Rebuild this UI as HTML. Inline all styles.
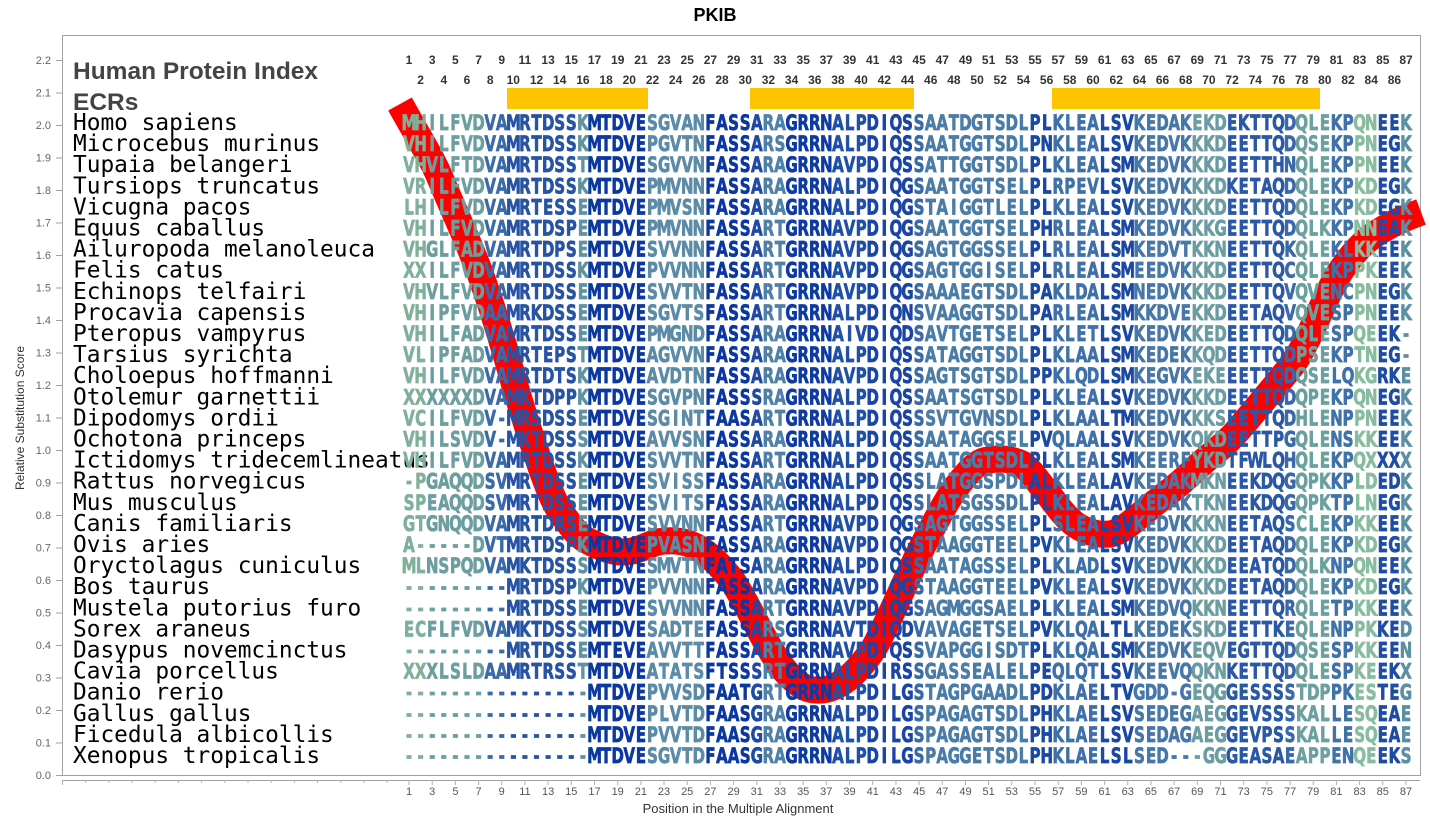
<!DOCTYPE html>
<html><head><meta charset="utf-8"><style>
html,body{margin:0;padding:0;background:#fff;width:1430px;height:825px;overflow:hidden}
svg{display:block}
</style></head><body>
<svg width="1430" height="825" viewBox="0 0 1430 825" xmlns="http://www.w3.org/2000/svg">
<defs>
<linearGradient id="g" gradientUnits="userSpaceOnUse" x1="560" y1="0" x2="1960.8" y2="0">
<stop offset="0" stop-color="#80b09a"/><stop offset="0.02299" stop-color="#80b09a"/>
<stop offset="0.02299" stop-color="#6c9ea0"/><stop offset="0.08046" stop-color="#6c9ea0"/>
<stop offset="0.08046" stop-color="#3a6aa8"/><stop offset="0.10345" stop-color="#3a6aa8"/>
<stop offset="0.10345" stop-color="#2753a5"/><stop offset="0.17241" stop-color="#2753a5"/>
<stop offset="0.17241" stop-color="#5f93a2"/><stop offset="0.18391" stop-color="#5f93a2"/>
<stop offset="0.18391" stop-color="#0b37a2"/><stop offset="0.24138" stop-color="#0b37a2"/>
<stop offset="0.24138" stop-color="#5b8ba6"/><stop offset="0.29885" stop-color="#5b8ba6"/>
<stop offset="0.29885" stop-color="#0b37a2"/><stop offset="0.34483" stop-color="#0b37a2"/>
<stop offset="0.34483" stop-color="#1e4aa5"/><stop offset="0.35632" stop-color="#1e4aa5"/>
<stop offset="0.35632" stop-color="#4f80a8"/><stop offset="0.37931" stop-color="#4f80a8"/>
<stop offset="0.37931" stop-color="#0d3aa3"/><stop offset="0.42529" stop-color="#0d3aa3"/>
<stop offset="0.42529" stop-color="#2050a5"/><stop offset="0.45977" stop-color="#2050a5"/>
<stop offset="0.45977" stop-color="#1a45a5"/><stop offset="0.50575" stop-color="#1a45a5"/>
<stop offset="0.50575" stop-color="#3a6aa8"/><stop offset="0.51724" stop-color="#3a6aa8"/>
<stop offset="0.51724" stop-color="#4a7ca8"/><stop offset="0.62069" stop-color="#4a7ca8"/>
<stop offset="0.62069" stop-color="#1a48a5"/><stop offset="0.64368" stop-color="#1a48a5"/>
<stop offset="0.64368" stop-color="#3f70a8"/><stop offset="0.68966" stop-color="#3f70a8"/>
<stop offset="0.68966" stop-color="#1a48a5"/><stop offset="0.72414" stop-color="#1a48a5"/>
<stop offset="0.72414" stop-color="#4677a8"/><stop offset="0.78161" stop-color="#4677a8"/>
<stop offset="0.78161" stop-color="#6a9ca2"/><stop offset="0.81609" stop-color="#6a9ca2"/>
<stop offset="0.81609" stop-color="#2a58a6"/><stop offset="0.87356" stop-color="#2a58a6"/>
<stop offset="0.87356" stop-color="#3a68a8"/><stop offset="0.88506" stop-color="#3a68a8"/>
<stop offset="0.88506" stop-color="#6aa09e"/><stop offset="0.91954" stop-color="#6aa09e"/>
<stop offset="0.91954" stop-color="#3e72a8"/><stop offset="0.94253" stop-color="#3e72a8"/>
<stop offset="0.94253" stop-color="#88bc9e"/><stop offset="0.96552" stop-color="#88bc9e"/>
<stop offset="0.96552" stop-color="#1e4ca5"/><stop offset="0.98851" stop-color="#1e4ca5"/>
<stop offset="0.98851" stop-color="#5a90a4"/><stop offset="1" stop-color="#5a90a4"/>
</linearGradient>
</defs>

<text x="715" y="21" font-family="Liberation Sans, sans-serif" font-size="18" font-weight="bold" text-anchor="middle" fill="#000">PKIB</text>

<rect x="62.5" y="35.5" width="1358" height="740" fill="none" stroke="#a0a0a0" stroke-width="1"/>
<line x1="62" y1="780.5" x2="1420" y2="780.5" stroke="#a0a0a0"/>

<g font-family="Liberation Sans, sans-serif" font-size="11" fill="#666" text-anchor="end">
<text x="51" y="779">0.0</text><text x="51" y="746.5">0.1</text><text x="51" y="714">0.2</text><text x="51" y="681.5">0.3</text><text x="51" y="649">0.4</text><text x="51" y="616.5">0.5</text><text x="51" y="584">0.6</text><text x="51" y="551.5">0.7</text><text x="51" y="519">0.8</text><text x="51" y="486.5">0.9</text><text x="51" y="454">1.0</text><text x="51" y="421.5">1.1</text><text x="51" y="389">1.2</text><text x="51" y="356.5">1.3</text><text x="51" y="324">1.4</text><text x="51" y="291.5">1.5</text><text x="51" y="259">1.6</text><text x="51" y="226.5">1.7</text><text x="51" y="194">1.8</text><text x="51" y="161.5">1.9</text><text x="51" y="129">2.0</text><text x="51" y="96.5">2.1</text><text x="51" y="64">2.2</text>
</g>
<path stroke="#a0a0a0" d="M56 775.5h6M56 743h6M56 710.5h6M56 678h6M56 645.5h6M56 613h6M56 580.5h6M56 548h6M56 515.5h6M56 483h6M56 450.5h6M56 418h6M56 385.5h6M56 353h6M56 320.5h6M56 288h6M56 255.5h6M56 223h6M56 190.5h6M56 158h6M56 125.5h6M56 93h6M56 60.5h6"/>
<text transform="translate(24,418) rotate(-90)" font-family="Liberation Sans, sans-serif" font-size="12" fill="#333" text-anchor="middle">Relative Substitution Score</text>

<path stroke="#b0b0b0" d="M62.5 780v5M85.7 780v3M108.9 780v3M132.1 780v3M155.2 780v3M178.4 780v3M201.6 780v3M224.8 780v3M248 780v3M271.2 780v3M294.4 780v3M317.5 780v3M340.7 780v3M363.9 780v3M387 780v3M409 780v5M432.2 780v5M455.4 780v5M478.6 780v5M501.7 780v5M524.9 780v5M548.1 780v5M571.3 780v5M594.5 780v5M617.7 780v5M640.9 780v5M664 780v5M687.2 780v5M710.4 780v5M733.6 780v5M756.8 780v5M780 780v5M803.2 780v5M826.3 780v5M849.5 780v5M872.7 780v5M895.9 780v5M919.1 780v5M942.3 780v5M965.5 780v5M988.6 780v5M1011.8 780v5M1035 780v5M1058.2 780v5M1081.4 780v5M1104.6 780v5M1127.8 780v5M1150.9 780v5M1174.1 780v5M1197.3 780v5M1220.5 780v5M1243.7 780v5M1266.9 780v5M1290.1 780v5M1313.2 780v5M1336.4 780v5M1359.6 780v5M1382.8 780v5M1406 780v5"/>
<g font-family="Liberation Sans, sans-serif" font-size="11" fill="#555" text-anchor="middle">
<text x="409" y="795">1</text><text x="432.2" y="795">3</text><text x="455.4" y="795">5</text><text x="478.6" y="795">7</text><text x="501.7" y="795">9</text><text x="524.9" y="795">11</text><text x="548.1" y="795">13</text><text x="571.3" y="795">15</text><text x="594.5" y="795">17</text><text x="617.7" y="795">19</text><text x="640.9" y="795">21</text><text x="664" y="795">23</text><text x="687.2" y="795">25</text><text x="710.4" y="795">27</text><text x="733.6" y="795">29</text><text x="756.8" y="795">31</text><text x="780" y="795">33</text><text x="803.2" y="795">35</text><text x="826.3" y="795">37</text><text x="849.5" y="795">39</text><text x="872.7" y="795">41</text><text x="895.9" y="795">43</text><text x="919.1" y="795">45</text><text x="942.3" y="795">47</text><text x="965.5" y="795">49</text><text x="988.6" y="795">51</text><text x="1011.8" y="795">53</text><text x="1035" y="795">55</text><text x="1058.2" y="795">57</text><text x="1081.4" y="795">59</text><text x="1104.6" y="795">61</text><text x="1127.8" y="795">63</text><text x="1150.9" y="795">65</text><text x="1174.1" y="795">67</text><text x="1197.3" y="795">69</text><text x="1220.5" y="795">71</text><text x="1243.7" y="795">73</text><text x="1266.9" y="795">75</text><text x="1290.1" y="795">77</text><text x="1313.2" y="795">79</text><text x="1336.4" y="795">81</text><text x="1359.6" y="795">83</text><text x="1382.8" y="795">85</text><text x="1406" y="795">87</text>
</g>
<text x="738" y="813" font-family="Liberation Sans, sans-serif" font-size="13" fill="#333" text-anchor="middle">Position in the Multiple Alignment</text>

<g font-family="Liberation Sans, sans-serif" font-size="12" font-weight="bold" fill="#333" text-anchor="middle">
<text x="409" y="64">1</text><text x="432.2" y="64">3</text><text x="455.4" y="64">5</text><text x="478.6" y="64">7</text><text x="501.7" y="64">9</text><text x="524.9" y="64">11</text><text x="548.1" y="64">13</text><text x="571.3" y="64">15</text><text x="594.5" y="64">17</text><text x="617.7" y="64">19</text><text x="640.9" y="64">21</text><text x="664" y="64">23</text><text x="687.2" y="64">25</text><text x="710.4" y="64">27</text><text x="733.6" y="64">29</text><text x="756.8" y="64">31</text><text x="780" y="64">33</text><text x="803.2" y="64">35</text><text x="826.3" y="64">37</text><text x="849.5" y="64">39</text><text x="872.7" y="64">41</text><text x="895.9" y="64">43</text><text x="919.1" y="64">45</text><text x="942.3" y="64">47</text><text x="965.5" y="64">49</text><text x="988.6" y="64">51</text><text x="1011.8" y="64">53</text><text x="1035" y="64">55</text><text x="1058.2" y="64">57</text><text x="1081.4" y="64">59</text><text x="1104.6" y="64">61</text><text x="1127.8" y="64">63</text><text x="1150.9" y="64">65</text><text x="1174.1" y="64">67</text><text x="1197.3" y="64">69</text><text x="1220.5" y="64">71</text><text x="1243.7" y="64">73</text><text x="1266.9" y="64">75</text><text x="1290.1" y="64">77</text><text x="1313.2" y="64">79</text><text x="1336.4" y="64">81</text><text x="1359.6" y="64">83</text><text x="1382.8" y="64">85</text><text x="1406" y="64">87</text>
<text x="420.6" y="84">2</text><text x="443.8" y="84">4</text><text x="467" y="84">6</text><text x="490.2" y="84">8</text><text x="513.3" y="84">10</text><text x="536.5" y="84">12</text><text x="559.7" y="84">14</text><text x="582.9" y="84">16</text><text x="606.1" y="84">18</text><text x="629.3" y="84">20</text><text x="652.5" y="84">22</text><text x="675.6" y="84">24</text><text x="698.8" y="84">26</text><text x="722" y="84">28</text><text x="745.2" y="84">30</text><text x="768.4" y="84">32</text><text x="791.6" y="84">34</text><text x="814.8" y="84">36</text><text x="837.9" y="84">38</text><text x="861.1" y="84">40</text><text x="884.3" y="84">42</text><text x="907.5" y="84">44</text><text x="930.7" y="84">46</text><text x="953.9" y="84">48</text><text x="977.1" y="84">50</text><text x="1000.2" y="84">52</text><text x="1023.4" y="84">54</text><text x="1046.6" y="84">56</text><text x="1069.8" y="84">58</text><text x="1093" y="84">60</text><text x="1116.2" y="84">62</text><text x="1139.4" y="84">64</text><text x="1162.5" y="84">66</text><text x="1185.7" y="84">68</text><text x="1208.9" y="84">70</text><text x="1232.1" y="84">72</text><text x="1255.3" y="84">74</text><text x="1278.5" y="84">76</text><text x="1301.7" y="84">78</text><text x="1324.8" y="84">80</text><text x="1348" y="84">82</text><text x="1371.2" y="84">84</text><text x="1394.4" y="84">86</text>
</g>

<rect x="507" y="88" width="141" height="21" fill="#ffc400"/>
<rect x="750" y="88" width="164" height="21" fill="#ffc400"/>
<rect x="1052" y="88" width="268" height="21" fill="#ffc400"/>

<text x="73" y="79" font-family="Liberation Sans, sans-serif" font-size="24.5" font-weight="bold" fill="#444">Human Protein Index</text>
<text x="73" y="110" font-family="Liberation Sans, sans-serif" font-size="24.5" font-weight="bold" fill="#444">ECRs</text>

<path d="M400 104 C420 140 433 160 441 180 C460 225 470 245 481 276 C495 315 505 350 515 386 C525 420 535 450 542 470 C550 492 555 505 563 515 C572 528 580 538 590 542 C602 548 612 552 623 552 C640 552 650 542 664 541 C678 540 688 542 698 548 C712 556 722 568 732 580 C745 600 755 622 765 640 C775 658 783 670 792 678 C800 686 808 690 816 690 C828 691 838 686 847 679 C858 670 866 660 874 648 C884 630 892 612 901 592 C910 572 918 554 928 536 C940 513 950 494 961 481 C970 470 978 461 988 460 C1000 458 1012 459 1022 464 C1032 471 1040 485 1049 495 C1058 507 1066 518 1076 525 C1088 533 1098 535 1110 534 C1122 532 1134 520 1144 512 C1160 498 1176 488 1191 473 C1208 456 1224 447 1239 429 C1258 407 1275 386 1293 364 C1310 340 1325 295 1340 272 C1350 257 1362 243 1374 235 C1390 224 1405 218 1421 212" fill="none" stroke="#ff0000" stroke-width="27" stroke-linejoin="round"/>

<g font-family="DejaVu Sans Mono, Liberation Mono, monospace" font-size="22.8" fill="#000">
<text x="73" y="130">Homo sapiens</text>
<text x="73" y="151.1">Microcebus murinus</text>
<text x="73" y="172.2">Tupaia belangeri</text>
<text x="73" y="193.3">Tursiops truncatus</text>
<text x="73" y="214.4">Vicugna pacos</text>
<text x="73" y="235.5">Equus caballus</text>
<text x="73" y="256.6">Ailuropoda melanoleuca</text>
<text x="73" y="277.7">Felis catus</text>
<text x="73" y="298.8">Echinops telfairi</text>
<text x="73" y="319.9">Procavia capensis</text>
<text x="73" y="341">Pteropus vampyrus</text>
<text x="73" y="362.1">Tarsius syrichta</text>
<text x="73" y="383.2">Choloepus hoffmanni</text>
<text x="73" y="404.3">Otolemur garnettii</text>
<text x="73" y="425.4">Dipodomys ordii</text>
<text x="73" y="446.5">Ochotona princeps</text>
<text x="73" y="467.6">Ictidomys tridecemlineatus</text>
<text x="73" y="488.7">Rattus norvegicus</text>
<text x="73" y="509.8">Mus musculus</text>
<text x="73" y="530.9">Canis familiaris</text>
<text x="73" y="552">Ovis aries</text>
<text x="73" y="573.1">Oryctolagus cuniculus</text>
<text x="73" y="594.2">Bos taurus</text>
<text x="73" y="615.3">Mustela putorius furo</text>
<text x="73" y="636.4">Sorex araneus</text>
<text x="73" y="657.5">Dasypus novemcinctus</text>
<text x="73" y="678.6">Cavia porcellus</text>
<text x="73" y="699.7">Danio rerio</text>
<text x="73" y="720.8">Gallus gallus</text>
<text x="73" y="741.9">Ficedula albicollis</text>
<text x="73" y="763">Xenopus tropicalis</text>
</g>

<g transform="scale(0.72 1)" font-family="DejaVu Sans, Liberation Sans, sans-serif" font-size="21" font-weight="bold" fill="url(#g)" stroke="url(#g)" stroke-width="0.7" text-anchor="middle">
<text y="130" x="568.1 584.2 600.3 616.4 632.5 648.6 664.7 680.8 696.9 713 729.1 745.2 761.3 777.4 793.5 809.6 825.7 841.8 857.9 874 890.1 906.2 922.3 938.4 954.5 970.6 986.7 1002.8 1018.9 1035 1051.1 1067.2 1083.3 1099.4 1115.5 1131.6 1147.7 1163.8 1179.9 1196 1212.1 1228.2 1244.3 1260.4 1276.5 1292.6 1308.7 1324.8 1340.9 1357 1373.1 1389.2 1405.3 1421.5 1437.6 1453.7 1469.8 1485.9 1502 1518.1 1534.2 1550.3 1566.4 1582.5 1598.6 1614.7 1630.8 1646.9 1663 1679.1 1695.2 1711.3 1727.4 1743.5 1759.6 1775.7 1791.8 1807.9 1824 1840.1 1856.2 1872.3 1888.4 1904.5 1920.6 1936.7 1952.8">MHILFVDVAMRTDSSKMTDVESGVANFASSARAGRRNALPDIQSSAATDGTSDLPLKLEALSVKEDAKEKDEKTTQDQLEKPQNEEK</text>
<text y="151.1" x="568.1 584.2 600.3 616.4 632.5 648.6 664.7 680.8 696.9 713 729.1 745.2 761.3 777.4 793.5 809.6 825.7 841.8 857.9 874 890.1 906.2 922.3 938.4 954.5 970.6 986.7 1002.8 1018.9 1035 1051.1 1067.2 1083.3 1099.4 1115.5 1131.6 1147.7 1163.8 1179.9 1196 1212.1 1228.2 1244.3 1260.4 1276.5 1292.6 1308.7 1324.8 1340.9 1357 1373.1 1389.2 1405.3 1421.5 1437.6 1453.7 1469.8 1485.9 1502 1518.1 1534.2 1550.3 1566.4 1582.5 1598.6 1614.7 1630.8 1646.9 1663 1679.1 1695.2 1711.3 1727.4 1743.5 1759.6 1775.7 1791.8 1807.9 1824 1840.1 1856.2 1872.3 1888.4 1904.5 1920.6 1936.7 1952.8">VHILFVDVAMRTDSSKMTDVEPGVTNFASSARSGRRNALPDIQSSAATGGTSDLPNKLEALSVKEDVKKKDEETTQDQSEKPPNEGK</text>
<text y="172.2" x="568.1 584.2 600.3 616.4 632.5 648.6 664.7 680.8 696.9 713 729.1 745.2 761.3 777.4 793.5 809.6 825.7 841.8 857.9 874 890.1 906.2 922.3 938.4 954.5 970.6 986.7 1002.8 1018.9 1035 1051.1 1067.2 1083.3 1099.4 1115.5 1131.6 1147.7 1163.8 1179.9 1196 1212.1 1228.2 1244.3 1260.4 1276.5 1292.6 1308.7 1324.8 1340.9 1357 1373.1 1389.2 1405.3 1421.5 1437.6 1453.7 1469.8 1485.9 1502 1518.1 1534.2 1550.3 1566.4 1582.5 1598.6 1614.7 1630.8 1646.9 1663 1679.1 1695.2 1711.3 1727.4 1743.5 1759.6 1775.7 1791.8 1807.9 1824 1840.1 1856.2 1872.3 1888.4 1904.5 1920.6 1936.7 1952.8">VHVLFTDVAMRTDSSTMTDVESGVVNFASSARAGRRNAVPDIQSSATTGGTSDLPLKLEALSMKEDVKKKDEETTHNQLEKPPNEEK</text>
<text y="193.3" x="568.1 584.2 600.3 616.4 632.5 648.6 664.7 680.8 696.9 713 729.1 745.2 761.3 777.4 793.5 809.6 825.7 841.8 857.9 874 890.1 906.2 922.3 938.4 954.5 970.6 986.7 1002.8 1018.9 1035 1051.1 1067.2 1083.3 1099.4 1115.5 1131.6 1147.7 1163.8 1179.9 1196 1212.1 1228.2 1244.3 1260.4 1276.5 1292.6 1308.7 1324.8 1340.9 1357 1373.1 1389.2 1405.3 1421.5 1437.6 1453.7 1469.8 1485.9 1502 1518.1 1534.2 1550.3 1566.4 1582.5 1598.6 1614.7 1630.8 1646.9 1663 1679.1 1695.2 1711.3 1727.4 1743.5 1759.6 1775.7 1791.8 1807.9 1824 1840.1 1856.2 1872.3 1888.4 1904.5 1920.6 1936.7 1952.8">VRILFVDVAMRTDSSKMTDVEPMVNNFASSARAGRRNALPDIQGSAATGGTSELPLRPEVLSVKEDVKKKDKETAQDQLEKPKDEGK</text>
<text y="214.4" x="568.1 584.2 600.3 616.4 632.5 648.6 664.7 680.8 696.9 713 729.1 745.2 761.3 777.4 793.5 809.6 825.7 841.8 857.9 874 890.1 906.2 922.3 938.4 954.5 970.6 986.7 1002.8 1018.9 1035 1051.1 1067.2 1083.3 1099.4 1115.5 1131.6 1147.7 1163.8 1179.9 1196 1212.1 1228.2 1244.3 1260.4 1276.5 1292.6 1308.7 1324.8 1340.9 1357 1373.1 1389.2 1405.3 1421.5 1437.6 1453.7 1469.8 1485.9 1502 1518.1 1534.2 1550.3 1566.4 1582.5 1598.6 1614.7 1630.8 1646.9 1663 1679.1 1695.2 1711.3 1727.4 1743.5 1759.6 1775.7 1791.8 1807.9 1824 1840.1 1856.2 1872.3 1888.4 1904.5 1920.6 1936.7 1952.8">LHILFVDVAMRTESSEMTDVEPMVSNFASSARAGRRNALPDIQGSTAIGGTLELPLKLEALSVKEDVKKKDEETTQDQLEKPKDEGK</text>
<text y="235.5" x="568.1 584.2 600.3 616.4 632.5 648.6 664.7 680.8 696.9 713 729.1 745.2 761.3 777.4 793.5 809.6 825.7 841.8 857.9 874 890.1 906.2 922.3 938.4 954.5 970.6 986.7 1002.8 1018.9 1035 1051.1 1067.2 1083.3 1099.4 1115.5 1131.6 1147.7 1163.8 1179.9 1196 1212.1 1228.2 1244.3 1260.4 1276.5 1292.6 1308.7 1324.8 1340.9 1357 1373.1 1389.2 1405.3 1421.5 1437.6 1453.7 1469.8 1485.9 1502 1518.1 1534.2 1550.3 1566.4 1582.5 1598.6 1614.7 1630.8 1646.9 1663 1679.1 1695.2 1711.3 1727.4 1743.5 1759.6 1775.7 1791.8 1807.9 1824 1840.1 1856.2 1872.3 1888.4 1904.5 1920.6 1936.7 1952.8">VHILFVDVAMRTDSPEMTDVEPMVNNFASSARTGRRNAVPDIQGSAATGGTSELPHRLEALSMKEDVKKKGEETTQDQLKKPNNEAK</text>
<text y="256.6" x="568.1 584.2 600.3 616.4 632.5 648.6 664.7 680.8 696.9 713 729.1 745.2 761.3 777.4 793.5 809.6 825.7 841.8 857.9 874 890.1 906.2 922.3 938.4 954.5 970.6 986.7 1002.8 1018.9 1035 1051.1 1067.2 1083.3 1099.4 1115.5 1131.6 1147.7 1163.8 1179.9 1196 1212.1 1228.2 1244.3 1260.4 1276.5 1292.6 1308.7 1324.8 1340.9 1357 1373.1 1389.2 1405.3 1421.5 1437.6 1453.7 1469.8 1485.9 1502 1518.1 1534.2 1550.3 1566.4 1582.5 1598.6 1614.7 1630.8 1646.9 1663 1679.1 1695.2 1711.3 1727.4 1743.5 1759.6 1775.7 1791.8 1807.9 1824 1840.1 1856.2 1872.3 1888.4 1904.5 1920.6 1936.7 1952.8">VHGLFADVAMRTDPSEMTDVESVVNNFASSARTGRRNAVPDIQGSAGTGGSSELPLRLEALSMKEDVTKKNEETTQKQLEKLKKEEK</text>
<text y="277.7" x="568.1 584.2 600.3 616.4 632.5 648.6 664.7 680.8 696.9 713 729.1 745.2 761.3 777.4 793.5 809.6 825.7 841.8 857.9 874 890.1 906.2 922.3 938.4 954.5 970.6 986.7 1002.8 1018.9 1035 1051.1 1067.2 1083.3 1099.4 1115.5 1131.6 1147.7 1163.8 1179.9 1196 1212.1 1228.2 1244.3 1260.4 1276.5 1292.6 1308.7 1324.8 1340.9 1357 1373.1 1389.2 1405.3 1421.5 1437.6 1453.7 1469.8 1485.9 1502 1518.1 1534.2 1550.3 1566.4 1582.5 1598.6 1614.7 1630.8 1646.9 1663 1679.1 1695.2 1711.3 1727.4 1743.5 1759.6 1775.7 1791.8 1807.9 1824 1840.1 1856.2 1872.3 1888.4 1904.5 1920.6 1936.7 1952.8">XXILFVDVAMRTDSSKMTDVEPVVNNFASSARTGRRNAVPDIQGSAGTGGISELPLRLEALSMEEDVKKKDEETTQCQLEKPPKEEK</text>
<text y="298.8" x="568.1 584.2 600.3 616.4 632.5 648.6 664.7 680.8 696.9 713 729.1 745.2 761.3 777.4 793.5 809.6 825.7 841.8 857.9 874 890.1 906.2 922.3 938.4 954.5 970.6 986.7 1002.8 1018.9 1035 1051.1 1067.2 1083.3 1099.4 1115.5 1131.6 1147.7 1163.8 1179.9 1196 1212.1 1228.2 1244.3 1260.4 1276.5 1292.6 1308.7 1324.8 1340.9 1357 1373.1 1389.2 1405.3 1421.5 1437.6 1453.7 1469.8 1485.9 1502 1518.1 1534.2 1550.3 1566.4 1582.5 1598.6 1614.7 1630.8 1646.9 1663 1679.1 1695.2 1711.3 1727.4 1743.5 1759.6 1775.7 1791.8 1807.9 1824 1840.1 1856.2 1872.3 1888.4 1904.5 1920.6 1936.7 1952.8">VHVLFVDVAMRTDSSEMTDVESVVTNFASSARTGRRNAVPDIQGSAAAEGTSDLPAKLDALSMNEDVKKKDEETTQVQVENCPNEGK</text>
<text y="319.9" x="568.1 584.2 600.3 616.4 632.5 648.6 664.7 680.8 696.9 713 729.1 745.2 761.3 777.4 793.5 809.6 825.7 841.8 857.9 874 890.1 906.2 922.3 938.4 954.5 970.6 986.7 1002.8 1018.9 1035 1051.1 1067.2 1083.3 1099.4 1115.5 1131.6 1147.7 1163.8 1179.9 1196 1212.1 1228.2 1244.3 1260.4 1276.5 1292.6 1308.7 1324.8 1340.9 1357 1373.1 1389.2 1405.3 1421.5 1437.6 1453.7 1469.8 1485.9 1502 1518.1 1534.2 1550.3 1566.4 1582.5 1598.6 1614.7 1630.8 1646.9 1663 1679.1 1695.2 1711.3 1727.4 1743.5 1759.6 1775.7 1791.8 1807.9 1824 1840.1 1856.2 1872.3 1888.4 1904.5 1920.6 1936.7 1952.8">VHIPFVDAAMRKDSSEMTDVESGVTSFASSARTGRRNALPDIQNSVAAGGTSDLPARLEALSMKKDVEKKDEETAQVQVESPPNEEK</text>
<text y="341" x="568.1 584.2 600.3 616.4 632.5 648.6 664.7 680.8 696.9 713 729.1 745.2 761.3 777.4 793.5 809.6 825.7 841.8 857.9 874 890.1 906.2 922.3 938.4 954.5 970.6 986.7 1002.8 1018.9 1035 1051.1 1067.2 1083.3 1099.4 1115.5 1131.6 1147.7 1163.8 1179.9 1196 1212.1 1228.2 1244.3 1260.4 1276.5 1292.6 1308.7 1324.8 1340.9 1357 1373.1 1389.2 1405.3 1421.5 1437.6 1453.7 1469.8 1485.9 1502 1518.1 1534.2 1550.3 1566.4 1582.5 1598.6 1614.7 1630.8 1646.9 1663 1679.1 1695.2 1711.3 1727.4 1743.5 1759.6 1775.7 1791.8 1807.9 1824 1840.1 1856.2 1872.3 1888.4 1904.5 1920.6 1936.7 1952.8">VHILFADVAMRTDSSEMTDVEPMGNDFASSARAGRRNAIVDIQDSAVTGETSELPLKLETLSVKEDVKKEDEETTQDQLESPQEEK-</text>
<text y="362.1" x="568.1 584.2 600.3 616.4 632.5 648.6 664.7 680.8 696.9 713 729.1 745.2 761.3 777.4 793.5 809.6 825.7 841.8 857.9 874 890.1 906.2 922.3 938.4 954.5 970.6 986.7 1002.8 1018.9 1035 1051.1 1067.2 1083.3 1099.4 1115.5 1131.6 1147.7 1163.8 1179.9 1196 1212.1 1228.2 1244.3 1260.4 1276.5 1292.6 1308.7 1324.8 1340.9 1357 1373.1 1389.2 1405.3 1421.5 1437.6 1453.7 1469.8 1485.9 1502 1518.1 1534.2 1550.3 1566.4 1582.5 1598.6 1614.7 1630.8 1646.9 1663 1679.1 1695.2 1711.3 1727.4 1743.5 1759.6 1775.7 1791.8 1807.9 1824 1840.1 1856.2 1872.3 1888.4 1904.5 1920.6 1936.7 1952.8">VLIPFADVAMRTEPSTMTDVEAGVVNFASSARAGRRNALPDIQSSATAGGTSDLPLKLAALSMKEDEKKQDEETTQDPSEKPTNEG-</text>
<text y="383.2" x="568.1 584.2 600.3 616.4 632.5 648.6 664.7 680.8 696.9 713 729.1 745.2 761.3 777.4 793.5 809.6 825.7 841.8 857.9 874 890.1 906.2 922.3 938.4 954.5 970.6 986.7 1002.8 1018.9 1035 1051.1 1067.2 1083.3 1099.4 1115.5 1131.6 1147.7 1163.8 1179.9 1196 1212.1 1228.2 1244.3 1260.4 1276.5 1292.6 1308.7 1324.8 1340.9 1357 1373.1 1389.2 1405.3 1421.5 1437.6 1453.7 1469.8 1485.9 1502 1518.1 1534.2 1550.3 1566.4 1582.5 1598.6 1614.7 1630.8 1646.9 1663 1679.1 1695.2 1711.3 1727.4 1743.5 1759.6 1775.7 1791.8 1807.9 1824 1840.1 1856.2 1872.3 1888.4 1904.5 1920.6 1936.7 1952.8">VHILFVDVAMRTDTSKMTDVEAVDTNFASSARAGRRNAVPDIQSSAGTSGTSDLPPKLQDLSMKEGVKEKEEETTQDQSELQKGRKE</text>
<text y="404.3" x="568.1 584.2 600.3 616.4 632.5 648.6 664.7 680.8 696.9 713 729.1 745.2 761.3 777.4 793.5 809.6 825.7 841.8 857.9 874 890.1 906.2 922.3 938.4 954.5 970.6 986.7 1002.8 1018.9 1035 1051.1 1067.2 1083.3 1099.4 1115.5 1131.6 1147.7 1163.8 1179.9 1196 1212.1 1228.2 1244.3 1260.4 1276.5 1292.6 1308.7 1324.8 1340.9 1357 1373.1 1389.2 1405.3 1421.5 1437.6 1453.7 1469.8 1485.9 1502 1518.1 1534.2 1550.3 1566.4 1582.5 1598.6 1614.7 1630.8 1646.9 1663 1679.1 1695.2 1711.3 1727.4 1743.5 1759.6 1775.7 1791.8 1807.9 1824 1840.1 1856.2 1872.3 1888.4 1904.5 1920.6 1936.7 1952.8">XXXXXXDVAMKTDPPKMTDVESGVPNFASSSRAGRRNALPDIQSSAATSGTSDLPLKLEALSVKEDVKKKDEETTQDQPEKPQNEGK</text>
<text y="425.4" x="568.1 584.2 600.3 616.4 632.5 648.6 664.7 680.8 696.9 713 729.1 745.2 761.3 777.4 793.5 809.6 825.7 841.8 857.9 874 890.1 906.2 922.3 938.4 954.5 970.6 986.7 1002.8 1018.9 1035 1051.1 1067.2 1083.3 1099.4 1115.5 1131.6 1147.7 1163.8 1179.9 1196 1212.1 1228.2 1244.3 1260.4 1276.5 1292.6 1308.7 1324.8 1340.9 1357 1373.1 1389.2 1405.3 1421.5 1437.6 1453.7 1469.8 1485.9 1502 1518.1 1534.2 1550.3 1566.4 1582.5 1598.6 1614.7 1630.8 1646.9 1663 1679.1 1695.2 1711.3 1727.4 1743.5 1759.6 1775.7 1791.8 1807.9 1824 1840.1 1856.2 1872.3 1888.4 1904.5 1920.6 1936.7 1952.8">VCILFVDV-MRSDSSEMTDVESGINTFAASARTGRRNALPDIQSSSVTGVNSDLPLKLAALTMKEDVKKKSEETTQDHLENPPNEEK</text>
<text y="446.5" x="568.1 584.2 600.3 616.4 632.5 648.6 664.7 680.8 696.9 713 729.1 745.2 761.3 777.4 793.5 809.6 825.7 841.8 857.9 874 890.1 906.2 922.3 938.4 954.5 970.6 986.7 1002.8 1018.9 1035 1051.1 1067.2 1083.3 1099.4 1115.5 1131.6 1147.7 1163.8 1179.9 1196 1212.1 1228.2 1244.3 1260.4 1276.5 1292.6 1308.7 1324.8 1340.9 1357 1373.1 1389.2 1405.3 1421.5 1437.6 1453.7 1469.8 1485.9 1502 1518.1 1534.2 1550.3 1566.4 1582.5 1598.6 1614.7 1630.8 1646.9 1663 1679.1 1695.2 1711.3 1727.4 1743.5 1759.6 1775.7 1791.8 1807.9 1824 1840.1 1856.2 1872.3 1888.4 1904.5 1920.6 1936.7 1952.8">VHILSVDV-MKTDSSSMTDVEAVVSNFASSARAGRRNALPDIQSSAATAGGSELPVQLAALSVKEDVKQKDEETTPGQLENSKKEEK</text>
<text y="467.6" x="568.1 584.2 600.3 616.4 632.5 648.6 664.7 680.8 696.9 713 729.1 745.2 761.3 777.4 793.5 809.6 825.7 841.8 857.9 874 890.1 906.2 922.3 938.4 954.5 970.6 986.7 1002.8 1018.9 1035 1051.1 1067.2 1083.3 1099.4 1115.5 1131.6 1147.7 1163.8 1179.9 1196 1212.1 1228.2 1244.3 1260.4 1276.5 1292.6 1308.7 1324.8 1340.9 1357 1373.1 1389.2 1405.3 1421.5 1437.6 1453.7 1469.8 1485.9 1502 1518.1 1534.2 1550.3 1566.4 1582.5 1598.6 1614.7 1630.8 1646.9 1663 1679.1 1695.2 1711.3 1727.4 1743.5 1759.6 1775.7 1791.8 1807.9 1824 1840.1 1856.2 1872.3 1888.4 1904.5 1920.6 1936.7 1952.8">VHILFVDVAMRTDSSKMTDVESVVTNFASSARTGRRNALPDIQSSAATGGTSDLPLKLEALSMKEERFYKDTFWLQHQLEKPQXXXX</text>
<text y="488.7" x="568.1 584.2 600.3 616.4 632.5 648.6 664.7 680.8 696.9 713 729.1 745.2 761.3 777.4 793.5 809.6 825.7 841.8 857.9 874 890.1 906.2 922.3 938.4 954.5 970.6 986.7 1002.8 1018.9 1035 1051.1 1067.2 1083.3 1099.4 1115.5 1131.6 1147.7 1163.8 1179.9 1196 1212.1 1228.2 1244.3 1260.4 1276.5 1292.6 1308.7 1324.8 1340.9 1357 1373.1 1389.2 1405.3 1421.5 1437.6 1453.7 1469.8 1485.9 1502 1518.1 1534.2 1550.3 1566.4 1582.5 1598.6 1614.7 1630.8 1646.9 1663 1679.1 1695.2 1711.3 1727.4 1743.5 1759.6 1775.7 1791.8 1807.9 1824 1840.1 1856.2 1872.3 1888.4 1904.5 1920.6 1936.7 1952.8">-PGAQQDSVMRTDSSEMTDVESVISSFASSARAGRRNALPDIQSSLATGGSPDLALKLEALAVKEDAKMKNEEKDQGQPKKPLDEDK</text>
<text y="509.8" x="568.1 584.2 600.3 616.4 632.5 648.6 664.7 680.8 696.9 713 729.1 745.2 761.3 777.4 793.5 809.6 825.7 841.8 857.9 874 890.1 906.2 922.3 938.4 954.5 970.6 986.7 1002.8 1018.9 1035 1051.1 1067.2 1083.3 1099.4 1115.5 1131.6 1147.7 1163.8 1179.9 1196 1212.1 1228.2 1244.3 1260.4 1276.5 1292.6 1308.7 1324.8 1340.9 1357 1373.1 1389.2 1405.3 1421.5 1437.6 1453.7 1469.8 1485.9 1502 1518.1 1534.2 1550.3 1566.4 1582.5 1598.6 1614.7 1630.8 1646.9 1663 1679.1 1695.2 1711.3 1727.4 1743.5 1759.6 1775.7 1791.8 1807.9 1824 1840.1 1856.2 1872.3 1888.4 1904.5 1920.6 1936.7 1952.8">SPEAQQDSVMRTDSSEMTDVESVITSFASSARAGRRNALPDIQSSLATSGSSDLPLKLEALAVKEDAKTKNEEKDQGQPKTPLNEGK</text>
<text y="530.9" x="568.1 584.2 600.3 616.4 632.5 648.6 664.7 680.8 696.9 713 729.1 745.2 761.3 777.4 793.5 809.6 825.7 841.8 857.9 874 890.1 906.2 922.3 938.4 954.5 970.6 986.7 1002.8 1018.9 1035 1051.1 1067.2 1083.3 1099.4 1115.5 1131.6 1147.7 1163.8 1179.9 1196 1212.1 1228.2 1244.3 1260.4 1276.5 1292.6 1308.7 1324.8 1340.9 1357 1373.1 1389.2 1405.3 1421.5 1437.6 1453.7 1469.8 1485.9 1502 1518.1 1534.2 1550.3 1566.4 1582.5 1598.6 1614.7 1630.8 1646.9 1663 1679.1 1695.2 1711.3 1727.4 1743.5 1759.6 1775.7 1791.8 1807.9 1824 1840.1 1856.2 1872.3 1888.4 1904.5 1920.6 1936.7 1952.8">GTGNQQDVAMRTDRSEMTDVESVVNNFASSARTGRRNAVPDIQGSAGTGGSSELPLSLEALSVKEDVKKKNEETAQSCLEKPKKEEK</text>
<text y="552" x="568.1 584.2 600.3 616.4 632.5 648.6 664.7 680.8 696.9 713 729.1 745.2 761.3 777.4 793.5 809.6 825.7 841.8 857.9 874 890.1 906.2 922.3 938.4 954.5 970.6 986.7 1002.8 1018.9 1035 1051.1 1067.2 1083.3 1099.4 1115.5 1131.6 1147.7 1163.8 1179.9 1196 1212.1 1228.2 1244.3 1260.4 1276.5 1292.6 1308.7 1324.8 1340.9 1357 1373.1 1389.2 1405.3 1421.5 1437.6 1453.7 1469.8 1485.9 1502 1518.1 1534.2 1550.3 1566.4 1582.5 1598.6 1614.7 1630.8 1646.9 1663 1679.1 1695.2 1711.3 1727.4 1743.5 1759.6 1775.7 1791.8 1807.9 1824 1840.1 1856.2 1872.3 1888.4 1904.5 1920.6 1936.7 1952.8">A-----DVTMRTDSPKMTDVEPVASNFASSARAGRRNAVPDIQGSTAAGGTEELPVKLEALSVKEDVKKKDEETAQDQLEKPKDEGK</text>
<text y="573.1" x="568.1 584.2 600.3 616.4 632.5 648.6 664.7 680.8 696.9 713 729.1 745.2 761.3 777.4 793.5 809.6 825.7 841.8 857.9 874 890.1 906.2 922.3 938.4 954.5 970.6 986.7 1002.8 1018.9 1035 1051.1 1067.2 1083.3 1099.4 1115.5 1131.6 1147.7 1163.8 1179.9 1196 1212.1 1228.2 1244.3 1260.4 1276.5 1292.6 1308.7 1324.8 1340.9 1357 1373.1 1389.2 1405.3 1421.5 1437.6 1453.7 1469.8 1485.9 1502 1518.1 1534.2 1550.3 1566.4 1582.5 1598.6 1614.7 1630.8 1646.9 1663 1679.1 1695.2 1711.3 1727.4 1743.5 1759.6 1775.7 1791.8 1807.9 1824 1840.1 1856.2 1872.3 1888.4 1904.5 1920.6 1936.7 1952.8">MLNSPQDVAMKTDSSSMTDVESMVTNFATSARAGRRNALPDIQSSAATAGSSELPLKLADLSVKEDVKKKDEEATQDQLKNPQNEEK</text>
<text y="594.2" x="568.1 584.2 600.3 616.4 632.5 648.6 664.7 680.8 696.9 713 729.1 745.2 761.3 777.4 793.5 809.6 825.7 841.8 857.9 874 890.1 906.2 922.3 938.4 954.5 970.6 986.7 1002.8 1018.9 1035 1051.1 1067.2 1083.3 1099.4 1115.5 1131.6 1147.7 1163.8 1179.9 1196 1212.1 1228.2 1244.3 1260.4 1276.5 1292.6 1308.7 1324.8 1340.9 1357 1373.1 1389.2 1405.3 1421.5 1437.6 1453.7 1469.8 1485.9 1502 1518.1 1534.2 1550.3 1566.4 1582.5 1598.6 1614.7 1630.8 1646.9 1663 1679.1 1695.2 1711.3 1727.4 1743.5 1759.6 1775.7 1791.8 1807.9 1824 1840.1 1856.2 1872.3 1888.4 1904.5 1920.6 1936.7 1952.8">---------MRTDSPKMTDVEPVVNNFASSARAGRRNAVPDIQGSTAAGGTEELPVKLEALSVKEDVKKKDEETAQDQLEKPKDEGK</text>
<text y="615.3" x="568.1 584.2 600.3 616.4 632.5 648.6 664.7 680.8 696.9 713 729.1 745.2 761.3 777.4 793.5 809.6 825.7 841.8 857.9 874 890.1 906.2 922.3 938.4 954.5 970.6 986.7 1002.8 1018.9 1035 1051.1 1067.2 1083.3 1099.4 1115.5 1131.6 1147.7 1163.8 1179.9 1196 1212.1 1228.2 1244.3 1260.4 1276.5 1292.6 1308.7 1324.8 1340.9 1357 1373.1 1389.2 1405.3 1421.5 1437.6 1453.7 1469.8 1485.9 1502 1518.1 1534.2 1550.3 1566.4 1582.5 1598.6 1614.7 1630.8 1646.9 1663 1679.1 1695.2 1711.3 1727.4 1743.5 1759.6 1775.7 1791.8 1807.9 1824 1840.1 1856.2 1872.3 1888.4 1904.5 1920.6 1936.7 1952.8">---------MRTDSSEMTDVESVVNNFASSARTGRRNAVPDIQGSAGMGGSAELPLKLEALSMKEDVQKKNEETTQRQLETPKKEEK</text>
<text y="636.4" x="568.1 584.2 600.3 616.4 632.5 648.6 664.7 680.8 696.9 713 729.1 745.2 761.3 777.4 793.5 809.6 825.7 841.8 857.9 874 890.1 906.2 922.3 938.4 954.5 970.6 986.7 1002.8 1018.9 1035 1051.1 1067.2 1083.3 1099.4 1115.5 1131.6 1147.7 1163.8 1179.9 1196 1212.1 1228.2 1244.3 1260.4 1276.5 1292.6 1308.7 1324.8 1340.9 1357 1373.1 1389.2 1405.3 1421.5 1437.6 1453.7 1469.8 1485.9 1502 1518.1 1534.2 1550.3 1566.4 1582.5 1598.6 1614.7 1630.8 1646.9 1663 1679.1 1695.2 1711.3 1727.4 1743.5 1759.6 1775.7 1791.8 1807.9 1824 1840.1 1856.2 1872.3 1888.4 1904.5 1920.6 1936.7 1952.8">ECFLFVDVAMKTDSSSMTDVESADTEFASSARSGRRNAVTDIQDVAVAGETSELPVKLQALTLKEDEKSKDEETTKEQLENPPKKED</text>
<text y="657.5" x="568.1 584.2 600.3 616.4 632.5 648.6 664.7 680.8 696.9 713 729.1 745.2 761.3 777.4 793.5 809.6 825.7 841.8 857.9 874 890.1 906.2 922.3 938.4 954.5 970.6 986.7 1002.8 1018.9 1035 1051.1 1067.2 1083.3 1099.4 1115.5 1131.6 1147.7 1163.8 1179.9 1196 1212.1 1228.2 1244.3 1260.4 1276.5 1292.6 1308.7 1324.8 1340.9 1357 1373.1 1389.2 1405.3 1421.5 1437.6 1453.7 1469.8 1485.9 1502 1518.1 1534.2 1550.3 1566.4 1582.5 1598.6 1614.7 1630.8 1646.9 1663 1679.1 1695.2 1711.3 1727.4 1743.5 1759.6 1775.7 1791.8 1807.9 1824 1840.1 1856.2 1872.3 1888.4 1904.5 1920.6 1936.7 1952.8">---------MRTDSSEMTEVEAVVTTFASSARTGRRNAVPDIQSSVAPGGISDTPLKLQALSMKEDVKEQVEGTTQDQSESPKKEEN</text>
<text y="678.6" x="568.1 584.2 600.3 616.4 632.5 648.6 664.7 680.8 696.9 713 729.1 745.2 761.3 777.4 793.5 809.6 825.7 841.8 857.9 874 890.1 906.2 922.3 938.4 954.5 970.6 986.7 1002.8 1018.9 1035 1051.1 1067.2 1083.3 1099.4 1115.5 1131.6 1147.7 1163.8 1179.9 1196 1212.1 1228.2 1244.3 1260.4 1276.5 1292.6 1308.7 1324.8 1340.9 1357 1373.1 1389.2 1405.3 1421.5 1437.6 1453.7 1469.8 1485.9 1502 1518.1 1534.2 1550.3 1566.4 1582.5 1598.6 1614.7 1630.8 1646.9 1663 1679.1 1695.2 1711.3 1727.4 1743.5 1759.6 1775.7 1791.8 1807.9 1824 1840.1 1856.2 1872.3 1888.4 1904.5 1920.6 1936.7 1952.8">XXXLSLDAAMRTRSSTMTDVEATATSFTSSSRTGRRNALPDIRSSGASSEALELPEQLQTLSVKEEVQQKNKETTQDQLESPKEEKX</text>
<text y="699.7" x="568.1 584.2 600.3 616.4 632.5 648.6 664.7 680.8 696.9 713 729.1 745.2 761.3 777.4 793.5 809.6 825.7 841.8 857.9 874 890.1 906.2 922.3 938.4 954.5 970.6 986.7 1002.8 1018.9 1035 1051.1 1067.2 1083.3 1099.4 1115.5 1131.6 1147.7 1163.8 1179.9 1196 1212.1 1228.2 1244.3 1260.4 1276.5 1292.6 1308.7 1324.8 1340.9 1357 1373.1 1389.2 1405.3 1421.5 1437.6 1453.7 1469.8 1485.9 1502 1518.1 1534.2 1550.3 1566.4 1582.5 1598.6 1614.7 1630.8 1646.9 1663 1679.1 1695.2 1711.3 1727.4 1743.5 1759.6 1775.7 1791.8 1807.9 1824 1840.1 1856.2 1872.3 1888.4 1904.5 1920.6 1936.7 1952.8">----------------MTDVEPVVSDFAATGRTGRRNALPDILGSTAGPGAADLPDKLAELTVGDD-GEQGGESSSSTDPPKESTEG</text>
<text y="720.8" x="568.1 584.2 600.3 616.4 632.5 648.6 664.7 680.8 696.9 713 729.1 745.2 761.3 777.4 793.5 809.6 825.7 841.8 857.9 874 890.1 906.2 922.3 938.4 954.5 970.6 986.7 1002.8 1018.9 1035 1051.1 1067.2 1083.3 1099.4 1115.5 1131.6 1147.7 1163.8 1179.9 1196 1212.1 1228.2 1244.3 1260.4 1276.5 1292.6 1308.7 1324.8 1340.9 1357 1373.1 1389.2 1405.3 1421.5 1437.6 1453.7 1469.8 1485.9 1502 1518.1 1534.2 1550.3 1566.4 1582.5 1598.6 1614.7 1630.8 1646.9 1663 1679.1 1695.2 1711.3 1727.4 1743.5 1759.6 1775.7 1791.8 1807.9 1824 1840.1 1856.2 1872.3 1888.4 1904.5 1920.6 1936.7 1952.8">----------------MTDVEPLVTDFAASGRAGRRNALPDILGSPAGAGTSDLPHKLAELSVSEDEGAEGGEVSSSKALLESQEAE</text>
<text y="741.9" x="568.1 584.2 600.3 616.4 632.5 648.6 664.7 680.8 696.9 713 729.1 745.2 761.3 777.4 793.5 809.6 825.7 841.8 857.9 874 890.1 906.2 922.3 938.4 954.5 970.6 986.7 1002.8 1018.9 1035 1051.1 1067.2 1083.3 1099.4 1115.5 1131.6 1147.7 1163.8 1179.9 1196 1212.1 1228.2 1244.3 1260.4 1276.5 1292.6 1308.7 1324.8 1340.9 1357 1373.1 1389.2 1405.3 1421.5 1437.6 1453.7 1469.8 1485.9 1502 1518.1 1534.2 1550.3 1566.4 1582.5 1598.6 1614.7 1630.8 1646.9 1663 1679.1 1695.2 1711.3 1727.4 1743.5 1759.6 1775.7 1791.8 1807.9 1824 1840.1 1856.2 1872.3 1888.4 1904.5 1920.6 1936.7 1952.8">----------------MTDVEPVVTDFAASGRAGRRNALPDILGSPAGAGTSDLPHKLAELSVSEDAGAEGGEVPSSKALLESQEAE</text>
<text y="763" x="568.1 584.2 600.3 616.4 632.5 648.6 664.7 680.8 696.9 713 729.1 745.2 761.3 777.4 793.5 809.6 825.7 841.8 857.9 874 890.1 906.2 922.3 938.4 954.5 970.6 986.7 1002.8 1018.9 1035 1051.1 1067.2 1083.3 1099.4 1115.5 1131.6 1147.7 1163.8 1179.9 1196 1212.1 1228.2 1244.3 1260.4 1276.5 1292.6 1308.7 1324.8 1340.9 1357 1373.1 1389.2 1405.3 1421.5 1437.6 1453.7 1469.8 1485.9 1502 1518.1 1534.2 1550.3 1566.4 1582.5 1598.6 1614.7 1630.8 1646.9 1663 1679.1 1695.2 1711.3 1727.4 1743.5 1759.6 1775.7 1791.8 1807.9 1824 1840.1 1856.2 1872.3 1888.4 1904.5 1920.6 1936.7 1952.8">----------------MTDVESGVTDFAASGRAGRRNALPDILGSPAGGETSDLPHKLAELSLSED---GGGEASAEAPPENQEEKS</text>
</g>
</svg>
</body></html>
